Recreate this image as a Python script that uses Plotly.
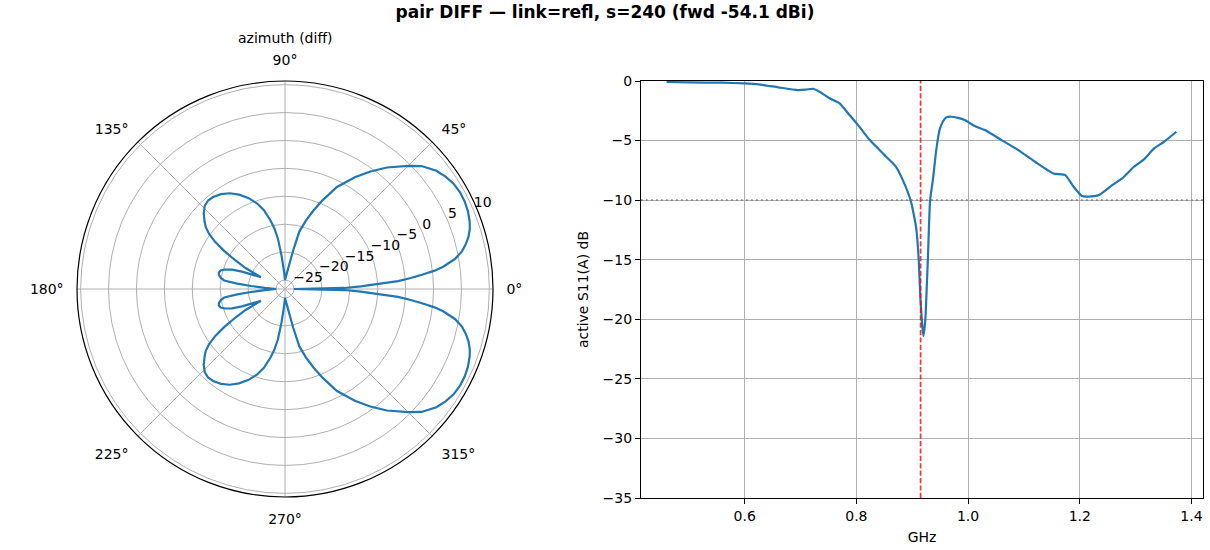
import plotly.graph_objects as go

# azimuth pattern (diff), degrees / dB
AZ_DEG = [
    0, 1, 2, 3, 4, 5, 6, 7, 8, 10, 12, 14, 16, 18, 20, 23, 26, 29, 32, 35,
    38, 42, 45, 50, 54, 58, 63, 67, 70, 73, 76, 78, 80, 85, 90,
    93, 96, 98, 100, 102, 105, 108, 112, 116, 120, 124, 128, 131, 134, 137,
    140, 142, 144, 146, 148, 150, 152, 154,
    156, 158, 160, 162, 164, 166, 168, 170, 172, 173.5, 175, 177, 180,
    183, 185, 186.5, 188, 190, 192, 194, 196, 198, 200, 202, 204,
    206, 208, 210, 212, 214, 216, 218, 220, 223, 226, 229, 232, 236, 240,
    244, 248, 252, 255, 258, 260, 262, 264, 267,
    270, 275, 280, 282, 284, 287, 290, 293, 297, 302, 306, 310, 315, 318,
    322, 325, 328, 331, 334, 337, 340, 342, 344, 346, 348, 350, 352, 353,
    354, 355, 356, 357, 358, 359, 360,
]
AZ_DB = [
    -25, -16.0, -13.0, -10.5, -6.3, -4.0, -1.8, 0.4, 2.0, 4.3, 5.8, 6.8, 7.6, 8.2, 8.6, 9.0, 9.2, 9.2, 9.0, 8.5,
    7.8, 6.3, 4.6, 1.8, -0.6, -3.0, -6.1, -9.3, -11.6, -13.8, -16.0, -19.5, -22.0, -24.2, -25,
    -23.5, -20.5, -17.5, -15.5, -14.0, -12.0, -10.5, -9.0, -7.8, -6.8, -6.1, -5.7, -5.6, -5.9, -6.7,
    -7.8, -8.6, -9.8, -11.5, -13.8, -16.3, -18.6, -21.8,
    -20.5, -18.3, -16.5, -15.3, -14.6, -14.4, -14.5, -14.9, -15.6, -18.0, -20.5, -23.0, -25,
    -23.0, -20.5, -18.0, -15.6, -14.9, -14.5, -14.4, -14.6, -15.3, -16.5, -18.3, -20.5,
    -21.8, -18.6, -16.3, -13.8, -11.5, -9.8, -8.6, -7.8, -6.7, -5.9, -5.6, -5.7, -6.1, -6.8,
    -7.8, -9.0, -10.5, -12.0, -14.0, -15.5, -17.5, -20.5, -23.5,
    -25, -24.2, -22.0, -19.5, -16.0, -13.8, -11.6, -9.3, -6.1, -3.0, -0.6, 1.8, 4.6, 6.3,
    7.8, 8.5, 9.0, 9.2, 9.2, 9.0, 8.6, 8.2, 7.6, 6.8, 5.8, 4.3, 2.0, 0.4,
    -1.8, -4.0, -6.3, -10.5, -13.0, -16.0, -25,
]
R_TICKS = [-25, -20, -15, -10, -5, 0, 5, 10]
R_LABELS = ["−25", "−20", "−15", "−10", "−5", "0", "5", "10"]
R_LABEL_ANGLE = 22.5
R_RANGE = [-26.6, 10.65]
ANG_TICKS = [0, 45, 90, 135, 180, 225, 270, 315]
ANG_LABELS = ["0°", "45°", "90°", "135°", "180°", "225°", "270°", "315°"]

# active S11(A) sweep
FREQ_GHZ = [
    0.46, 0.50, 0.56, 0.60, 0.625, 0.66, 0.695, 0.71, 0.722, 0.734, 0.752,
    0.770, 0.785, 0.803, 0.824, 0.850, 0.871, 0.883, 0.897, 0.904, 0.9075,
    0.9116, 0.9145, 0.918, 0.920, 0.9235, 0.9265, 0.928, 0.932, 0.937,
    0.943, 0.949, 0.955, 0.961, 0.970, 0.982, 0.994, 1.012, 1.030, 1.060,
    1.090, 1.120, 1.153, 1.174, 1.189, 1.204, 1.215, 1.234, 1.258, 1.276,
    1.297, 1.315, 1.333, 1.351, 1.373,
]
S11_DB = [
    -0.08, -0.12, -0.14, -0.2, -0.28, -0.53, -0.76, -0.72, -0.65, -0.9, -1.45,
    -1.87, -2.7, -3.7, -4.96, -6.2, -7.2, -8.3, -10.0, -11.5, -12.5,
    -15.0, -18.1, -20.6, -21.4, -20.0, -16.7, -15.0, -10.0, -8.3,
    -5.8, -4.1, -3.4, -3.05, -3.0, -3.1, -3.28, -3.78, -4.12, -4.96,
    -5.8, -6.78, -7.76, -7.9, -8.88, -9.66, -9.7, -9.58, -8.74, -8.18,
    -7.2, -6.58, -5.66, -5.1, -4.26,
]
MARK_GHZ = 0.915
THRESH_DB = -10
X_TICKS = [0.6, 0.8, 1.0, 1.2, 1.4]
X_LABELS = ["0.6", "0.8", "1.0", "1.2", "1.4"]

W, H = 1210, 550
BLUE = "#1f77b4"
GRID = "#b0b0b0"
FONT = "DejaVu Sans"


def fx(px):
    return px / W


def fy(py):
    return 1 - py / H


fig = go.Figure()

fig.add_trace(go.Scatterpolar(
    r=AZ_DB, theta=AZ_DEG, mode="lines",
    line=dict(color=BLUE, width=2.2), showlegend=False,
))

# radial tick labels, left-aligned like matplotlib
fig.add_trace(go.Scatterpolar(
    r=R_TICKS, theta=[R_LABEL_ANGLE] * len(R_TICKS), mode="text",
    text=R_LABELS, textposition="top right",
    textfont=dict(family=FONT, size=14, color="black"),
    showlegend=False, hoverinfo="skip",
))

fig.add_trace(go.Scatter(
    x=FREQ_GHZ, y=S11_DB, mode="lines",
    line=dict(color=BLUE, width=2.2, shape="spline", smoothing=0.5),
    showlegend=False, xaxis="x", yaxis="y",
))

fig.add_vline(x=MARK_GHZ, line=dict(color="rgba(255,0,0,0.8)", width=1.7, dash="5.2px,2.2px"))
fig.add_hline(y=THRESH_DB, line=dict(color="rgba(128,128,128,0.9)", width=1.7, dash="1.8px,3.2px"))

fig.update_layout(
    template="none",
    width=W, height=H,
    margin=dict(l=0, r=0, t=0, b=0),
    paper_bgcolor="white", plot_bgcolor="white",
    font=dict(family=FONT, size=14, color="black"),
    title=dict(
        text="<b>pair DIFF — link=refl, s=240 (fwd -54.1 dBi)</b>",
        x=fx(605), xanchor="center", y=fy(12), yanchor="middle",
        font=dict(size=17),
    ),
    polar=dict(
        domain=dict(x=[fx(77), fx(493)], y=[fy(497), fy(81)]),
        bgcolor="white",
        angularaxis=dict(
            rotation=0, direction="counterclockwise",
            tickmode="array", tickvals=ANG_TICKS, ticktext=ANG_LABELS,
            showline=True, linecolor="black", linewidth=1.2,
            ticks="outside", ticklen=10, tickcolor="rgba(0,0,0,0)",
            showgrid=True, gridcolor=GRID, gridwidth=0.9,
        ),
        radialaxis=dict(
            range=R_RANGE, tickmode="array", tickvals=R_TICKS,
            angle=R_LABEL_ANGLE, showticklabels=False, showline=False, ticks="",
            showgrid=True, gridcolor=GRID, gridwidth=0.9,
        ),
    ),
    xaxis=dict(
        domain=[fx(641), fx(1203)], range=[0.4143, 1.4207],
        tickmode="array", tickvals=X_TICKS, ticktext=X_LABELS,
        showline=True, mirror=True, linecolor="black", linewidth=1.2,
        ticks="outside", ticklen=5, tickcolor="black",
        showgrid=True, gridcolor=GRID, gridwidth=0.9, zeroline=False,
        title=dict(text="GHz", standoff=9, font=dict(size=14)),
        anchor="y", automargin=False,
    ),
    yaxis=dict(
        domain=[fy(498), fy(81)], range=[-35, 0], dtick=5,
        showline=True, mirror=True, linecolor="black", linewidth=1.2,
        ticks="outside", ticklen=5, tickcolor="black",
        showgrid=True, gridcolor=GRID, gridwidth=0.9, zeroline=False,
        title=dict(text="active S11(A) dB", standoff=10, font=dict(size=14)),
        anchor="x", automargin=False,
    ),
    annotations=[dict(
        text="azimuth (diff)", x=fx(285), y=fy(38), xref="paper", yref="paper",
        xanchor="center", yanchor="middle", showarrow=False, font=dict(size=14),
    )],
)

# drop the browser's default 8px body margin so the figure sits at the corner
fig.write_html(
    "out.html",
    config={"displayModeBar": False},
    post_script="document.body.style.margin = '0';",
)
